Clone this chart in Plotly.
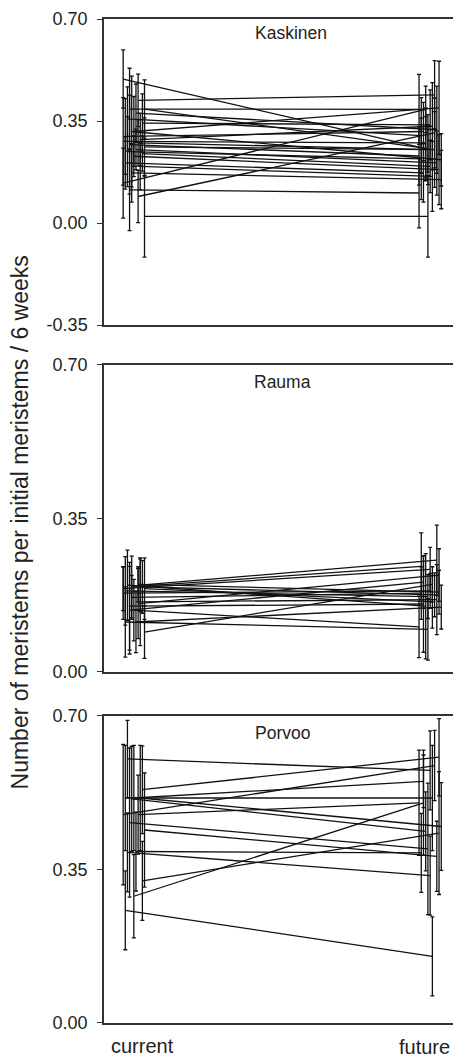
import plotly.graph_objects as go

# ---------------- data ----------------
panel_names = ["Kaskinen", "Rauma", "Porvoo"]
x_labels = ["current", "future"]
y_tick_vals = [0.70, 0.35, 0.00, -0.35]
y_tick_text = ["0.70", "0.35", "0.00", "-0.35"]

kask_current = [0.494, 0.421, 0.391, 0.391, 0.377, 0.357, 0.343, 0.314, 0.297, 0.286,
                0.314, 0.280, 0.275, 0.269, 0.261, 0.252, 0.245, 0.238, 0.229, 0.206,
                0.194, 0.172, 0.137, 0.091, 0.114, 0.023]
kask_future = [0.255, 0.440, 0.390, 0.255, 0.320, 0.300, 0.337, 0.395, 0.314, 0.332,
               0.217, 0.275, 0.252, 0.230, 0.252, 0.206, 0.220, 0.194, 0.183, 0.172,
               0.160, 0.149, 0.390, 0.309, 0.103, 0.023]
kask_current_err = [0.10, 0.09, 0.14, 0.10, 0.10, 0.11, 0.10, 0.12, 0.13, 0.09,
                    0.19, 0.15, 0.08, 0.17, 0.10, 0.07, 0.12, 0.06, 0.07, 0.09,
                    0.08, 0.10, 0.12, 0.09, 0.14, 0.14]
kask_future_err = [0.11, 0.117, 0.12, 0.08, 0.15, 0.13, 0.12, 0.16, 0.10, 0.15,
                   0.09, 0.12, 0.13, 0.10, 0.12, 0.11, 0.14, 0.09, 0.12, 0.10,
                   0.12, 0.10, 0.08, 0.12, 0.12, 0.14]

rauma_current = [0.185, 0.198, 0.194, 0.190, 0.156, 0.141, 0.091, 0.114, 0.198, 0.194,
                 0.141, 0.114, 0.160, 0.170, 0.180, 0.200, 0.150, 0.190]
rauma_future = [0.172, 0.255, 0.241, 0.234, 0.221, 0.205, 0.200, 0.148, 0.150, 0.176,
                0.103, 0.097, 0.165, 0.180, 0.185, 0.182, 0.155, 0.160]
rauma_current_err = [0.078, 0.06, 0.07, 0.05, 0.08, 0.10, 0.06, 0.07, 0.08, 0.06,
                     0.07, 0.08, 0.10, 0.05, 0.06, 0.04, 0.10, 0.07]
rauma_future_err = [0.05, 0.08, 0.076, 0.05, 0.06, 0.06, 0.04, 0.05, 0.12, 0.05,
                    0.07, 0.07, 0.08, 0.06, 0.04, 0.05, 0.11, 0.06]

porvoo_current = [0.602, 0.532, 0.513, 0.513, 0.513, 0.511, 0.475, 0.475, 0.457, 0.440,
                  0.391, 0.389, 0.324, 0.289, 0.257]
porvoo_future = [0.576, 0.606, 0.551, 0.513, 0.448, 0.437, 0.587, 0.502, 0.397, 0.380,
                 0.388, 0.336, 0.433, 0.502, 0.152]
porvoo_current_err = [0.088, 0.10, 0.12, 0.12, 0.12, 0.12, 0.16, 0.09, 0.17, 0.13,
                      0.09, 0.09, 0.09, 0.095, 0.09]
porvoo_future_err = [0.09, 0.088, 0.06, 0.12, 0.10, 0.09, 0.08, 0.12, 0.15, 0.08,
                     0.09, 0.09, 0.14, 0.12, 0.09]

panels = [
    (kask_current, kask_future, kask_current_err, kask_future_err, [-0.35, 0.70]),
    (rauma_current, rauma_future, rauma_current_err, rauma_future_err, [0.0, 0.70]),
    (porvoo_current, porvoo_future, porvoo_current_err, porvoo_future_err, [0.0, 0.70]),
]

# ---------------- layout geometry ----------------
# (the page body adds an 8 px offset, compensated here)
W, H = 453, 1051
ML, MR, MT, MB = 96, 1, 11, 36
domains = [[0.6952, 1.0], [0.3496, 0.6554], [0.0, 0.3058]]
x_range = [-0.1007, 1.094]
FONT = "Liberation Sans, Arial, sans-serif"
INK = "#111111"
AXIS = "#333333"
TXT = "#222222"

fig = go.Figure()

for p, (cur, fut, ecur, efut, yr) in enumerate(panels):
    xa = "x" if p == 0 else f"x{p + 1}"
    ya = "y" if p == 0 else f"y{p + 1}"
    for i in range(len(cur)):
        # deterministic side-by-side dodge so the error bars do not overlap completely
        dc = ((i * 7 + p) % 11 - 5) * 0.0072
        df = ((i * 4 + 3 + p) % 11 - 5) * 0.0075
        fig.add_trace(go.Scatter(
            x=[0 + dc, 1 + df], y=[cur[i], fut[i]],
            mode="lines",
            line=dict(color=INK, width=1.3),
            error_y=dict(type="data", array=[ecur[i], efut[i]], visible=True,
                         color=INK, thickness=1.3, width=2),
            xaxis=xa, yaxis=ya, showlegend=False, hoverinfo="skip",
        ))

    ax_common = dict(showline=True, linecolor=AXIS, linewidth=1.5, mirror=True,
                     showgrid=False, zeroline=False)
    fig.layout[("xaxis" if p == 0 else f"xaxis{p + 1}")] = dict(
        ax_common, domain=[0, 1], range=x_range, showticklabels=False, ticks="",
        anchor=ya)
    tv = [v for v in y_tick_vals if yr[0] - 1e-9 <= v <= yr[1] + 1e-9]
    tt = [y_tick_text[y_tick_vals.index(v)] for v in tv]
    fig.layout[("yaxis" if p == 0 else f"yaxis{p + 1}")] = dict(
        ax_common, domain=domains[p], range=yr, tickvals=tv, ticktext=tt,
        ticks="outside", ticklen=5, tickwidth=1.2, tickcolor=AXIS,
        ticklabelstandoff=6,
        tickfont=dict(family=FONT, size=18, color=TXT), anchor=xa)


def note(text, x, y, size, angle=0):
    return dict(text=text, x=x, y=y, xref="paper", yref="paper",
                xanchor="center", yanchor="middle", textangle=angle,
                showarrow=False, font=dict(family=FONT, size=size, color=TXT))


annotations = [
    note(panel_names[0], 0.528, 0.986, 17.5),
    note(panel_names[1], 0.503, 0.638, 17.5),
    note(panel_names[2], 0.503, 0.289, 17.5),
    note(x_labels[0], 0.1096, -0.0229, 20),
    note(x_labels[1], 0.9045, -0.0239, 20),
    note("Number of meristems per initial meristems / 6 weeks", -0.236, 0.499, 23, -90),
]

fig.update_layout(
    width=W, height=H,
    margin=dict(l=ML, r=MR, t=MT, b=MB, pad=0),
    paper_bgcolor="white", plot_bgcolor="white",
    annotations=annotations, showlegend=False,
)

fig.write_html("out.html")
